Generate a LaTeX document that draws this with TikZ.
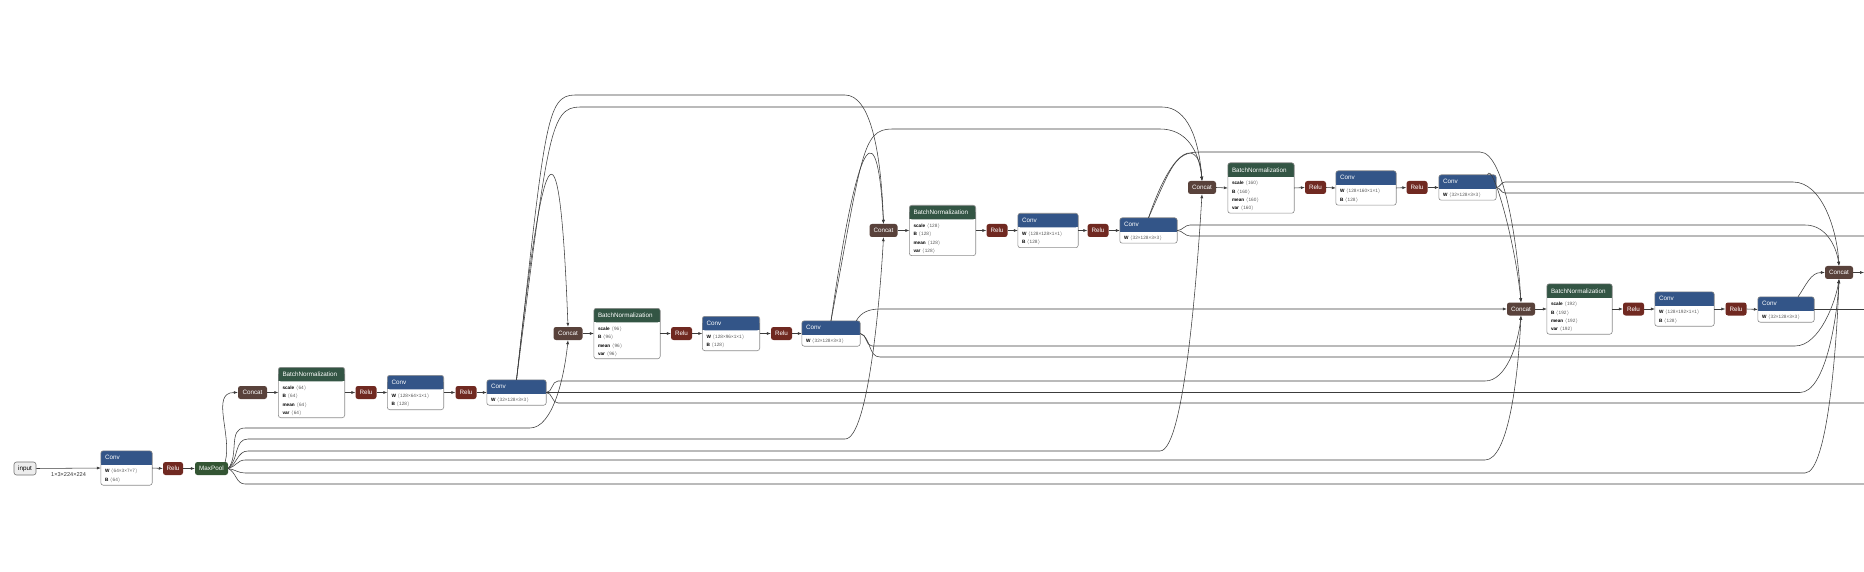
\documentclass[tikz,border=0pt]{standalone}
\usepackage{fontspec}
\setmainfont{Liberation Sans}
\usetikzlibrary{arrows.meta, positioning}
\definecolor{layerc}{RGB}{51,85,136}
\definecolor{normc}{RGB}{51,85,68}
\definecolor{actc}{RGB}{112,41,33}
\definecolor{poolc}{RGB}{51,85,51}
\definecolor{tensorc}{RGB}{89,66,59}
\definecolor{edgec}{RGB}{60,60,60}
\tikzstyle{op} = [rounded corners=2.5pt, text=white, inner sep=0pt, minimum height=13pt, font=\fontsize{6.3}{7}\selectfont]
\tikzstyle{frame} = [inner sep=0pt]
\tikzstyle{link} = [draw=edgec, line width=0.55pt, -{Latex[length=4pt, width=3pt]}]
\tikzstyle{trail} = [draw=edgec, line width=0.55pt]
\newcommand{\attr}[2]{\textbf{#1}~\textcolor{black!65}{$\langle$#2$\rangle$}}
% name, x, y, width, height, colour, title, rows
\newcommand{\layer}[8]{%
  \node[frame, minimum width=#4pt, minimum height=#5pt] (#1) at (#2,#3) {};
  \fill[white, rounded corners=2.5pt] (#1.south west) rectangle (#1.north east);
  \fill[#6, rounded corners=2.5pt] (#1.north west) rectangle ([yshift=-14pt]#1.north east);
  \fill[#6] ([yshift=-7pt]#1.north west) rectangle ([yshift=-14pt]#1.north east);
  \draw[black!45, line width=0.6pt, rounded corners=2.5pt] (#1.south west) rectangle (#1.north east);
  \node[anchor=west, text=white, inner sep=0pt, font=\fontsize{6.3}{7}\selectfont] at ([xshift=4pt, yshift=-7pt]#1.north west) {#7};
  \node[anchor=north west, align=left, inner sep=0pt, font=\fontsize{4.7}{8.4}\selectfont] at ([xshift=4pt, yshift=-18pt]#1.north west) {#8};
}

\begin{document}
\begin{tikzpicture}[x=1pt, y=-1pt]
	\useasboundingbox (0,0) rectangle (1864,572);
	\fill[white] (0,0) rectangle (1864,572);

	% stem
	\node[op, fill=black!7, draw=black!55, line width=0.6pt, text=black, minimum width=22pt] (input) at (25,468.5) {input};
	\layer{conv0}{126.5}{468}{51}{34}{layerc}{Conv}{\attr{W}{64×3×7×7}\\\attr{B}{64}}
	\node[op, fill=actc, minimum width=20pt] (relu0) at (173,468.5) {Relu};
	\node[op, fill=poolc, minimum width=33pt] (pool) at (211.5,468.5) {MaxPool};

	% dense layer 1
	\node[op, fill=tensorc, minimum width=29pt] (cat1) at (252.5,392.5) {Concat};
	\layer{bn1}{311.5}{392.5}{66}{50}{normc}{BatchNormalization}{\attr{scale}{64}\\\attr{B}{64}\\\attr{mean}{64}\\\attr{var}{64}}
	\node[op, fill=actc, minimum width=21pt] (relu1a) at (366,392.5) {Relu};
	\layer{conv1a}{415.5}{392.5}{56}{34}{layerc}{Conv}{\attr{W}{128×64×1×1}\\\attr{B}{128}}
	\node[op, fill=actc, minimum width=21pt] (relu1b) at (466,392.5) {Relu};
	\layer{conv1b}{516.5}{392.5}{59}{25}{layerc}{Conv}{\attr{W}{32×128×3×3}}

	% dense layer 2
	\node[op, fill=tensorc, minimum width=29pt] (cat2) at (568,333.5) {Concat};
	\layer{bn2}{627}{333.5}{66}{50}{normc}{BatchNormalization}{\attr{scale}{96}\\\attr{B}{96}\\\attr{mean}{96}\\\attr{var}{96}}
	\node[op, fill=actc, minimum width=21pt] (relu2a) at (681.5,333.5) {Relu};
	\layer{conv2a}{731}{333.5}{57}{34}{layerc}{Conv}{\attr{W}{128×96×1×1}\\\attr{B}{128}}
	\node[op, fill=actc, minimum width=21pt] (relu2b) at (781.5,333.5) {Relu};
	\layer{conv2b}{831}{333.5}{58}{25}{layerc}{Conv}{\attr{W}{32×128×3×3}}

	% dense layer 3
	\node[op, fill=tensorc, minimum width=28pt] (cat3) at (883.5,230.5) {Concat};
	\layer{bn3}{942.5}{230.5}{66}{50}{normc}{BatchNormalization}{\attr{scale}{128}\\\attr{B}{128}\\\attr{mean}{128}\\\attr{var}{128}}
	\node[op, fill=actc, minimum width=21pt] (relu3a) at (997,230.5) {Relu};
	\layer{conv3a}{1048}{230.5}{60}{34}{layerc}{Conv}{\attr{W}{128×128×1×1}\\\attr{B}{128}}
	\node[op, fill=actc, minimum width=21pt] (relu3b) at (1098,230.5) {Relu};
	\layer{conv3b}{1148.5}{230.5}{57}{25}{layerc}{Conv}{\attr{W}{32×128×3×3}}

	% dense layer 4
	\node[op, fill=tensorc, minimum width=28pt] (cat4) at (1202,187.5) {Concat};
	\layer{bn4}{1261}{188}{66}{50}{normc}{BatchNormalization}{\attr{scale}{160}\\\attr{B}{160}\\\attr{mean}{160}\\\attr{var}{160}}
	\node[op, fill=actc, minimum width=21pt] (relu4a) at (1315.5,187.5) {Relu};
	\layer{conv4a}{1366}{188}{60}{34}{layerc}{Conv}{\attr{W}{128×160×1×1}\\\attr{B}{128}}
	\node[op, fill=actc, minimum width=21pt] (relu4b) at (1417,187.5) {Relu};
	\layer{conv4b}{1467.5}{187.5}{57}{25}{layerc}{Conv}{\attr{W}{32×128×3×3}}

	% dense layer 5
	\node[op, fill=tensorc, minimum width=28pt] (cat5) at (1521,309) {Concat};
	\layer{bn5}{1579.5}{309}{65}{50}{normc}{BatchNormalization}{\attr{scale}{192}\\\attr{B}{192}\\\attr{mean}{192}\\\attr{var}{192}}
	\node[op, fill=actc, minimum width=21pt] (relu5a) at (1633.5,309) {Relu};
	\layer{conv5a}{1684.5}{309}{59}{34}{layerc}{Conv}{\attr{W}{128×192×1×1}\\\attr{B}{128}}
	\node[op, fill=actc, minimum width=21pt] (relu5b) at (1736,309) {Relu};
	\layer{conv5b}{1786}{309.5}{56}{25}{layerc}{Conv}{\attr{W}{32×128×3×3}}

	\node[op, fill=tensorc, minimum width=28pt] (cat6) at (1839,272.5) {Concat};

	% ends cut off by the frame
	\coordinate (outp) at (1864,484);
	\coordinate (outa) at (1864,403);
	\coordinate (outb) at (1864,357);
	\coordinate (outc) at (1864,236);
	\coordinate (outd) at (1864,193);
	\coordinate (oute) at (1864,309.5);
	\coordinate (outf) at (1864,272.5);

	% straight chains
	\draw[link] (input.east) -- node[below=4pt, inner sep=0pt, text=black!80, font=\fontsize{5.6}{6.5}\selectfont] {1×3×224×224} (conv0.west);
	\draw[link] (conv0.east) -- (relu0.west);
	\draw[link] (relu0.east) -- (pool.west);
	\draw[link] (cat1.east) -- (bn1.west);
	\draw[link] (bn1.east) -- (relu1a.west);
	\draw[link] (relu1a.east) -- (conv1a.west);
	\draw[link] (conv1a.east) -- (relu1b.west);
	\draw[link] (relu1b.east) -- (conv1b.west);
	\draw[link] (cat2.east) -- (bn2.west);
	\draw[link] (bn2.east) -- (relu2a.west);
	\draw[link] (relu2a.east) -- (conv2a.west);
	\draw[link] (conv2a.east) -- (relu2b.west);
	\draw[link] (relu2b.east) -- (conv2b.west);
	\draw[link] (cat3.east) -- (bn3.west);
	\draw[link] (bn3.east) -- (relu3a.west);
	\draw[link] (relu3a.east) -- (conv3a.west);
	\draw[link] (conv3a.east) -- (relu3b.west);
	\draw[link] (relu3b.east) -- (conv3b.west);
	\draw[link] (cat4.east) -- (bn4.west);
	\draw[link] (bn4.east) -- (relu4a.west);
	\draw[link] (relu4a.east) -- (conv4a.west);
	\draw[link] (conv4a.east) -- (relu4b.west);
	\draw[link] (relu4b.east) -- (conv4b.west);
	\draw[link] (cat5.east) -- (bn5.west);
	\draw[link] (bn5.east) -- (relu5a.west);
	\draw[link] (relu5a.east) -- (conv5a.west);
	\draw[link] (conv5a.east) -- (relu5b.west);
	\draw[link] (relu5b.east) -- (conv5b.west);
	\draw[link] (cat6.east) -- (outf);

	% maxpool features
	\draw[link] ([xshift=-3pt]pool.north east) to[out=75, in=180] (cat1.west);
	\draw[link] (pool.east) to[out=50, in=180] (245,428) -- (530,428) .. controls (552,428) and (564,380) .. (cat2.south);
	\draw[link] (pool.east) to[out=40, in=180] (248,439) -- (845,439) .. controls (868,439) and (880,300) .. (cat3.south);
	\draw[link] (pool.east) to[out=28, in=180] (248,451) -- (1160,451) .. controls (1185,451) and (1198,260) .. (cat4.south);
	\draw[link] (pool.east) to[out=12, in=180] (245,460) -- (1485,460) .. controls (1508,460) and (1518,380) .. (cat5.south);
	\draw[link] (pool.east) to[out=-8, in=180] (245,473) -- (1805,473) .. controls (1828,473) and (1837,340) .. (cat6.south);
	\draw[trail] (pool.east) to[out=-25, in=180] (245,484) -- (outp);

	% layer 1 output
	\draw[link] (conv1b.north) .. controls (545,116) and (560,116) .. (cat2.north);
	\draw[link] (conv1b.north) .. controls (545,125) and (546,95) .. (575,95) -- (845,95) .. controls (870,95) and (881,150) .. (cat3.north);
	\draw[link] (conv1b.north) .. controls (548,135) and (550,107) .. (580,107) -- (1162,107) .. controls (1188,107) and (1199,140) .. (cat4.north);
	\draw[link] (conv1b.east) to[out=0, in=180] (558,381) -- (1485,381) .. controls (1506,381) and (1518,345) .. (cat5.south);
	\draw[link] (conv1b.east) -- (1800,392.5) .. controls (1825,392.5) and (1837,320) .. (cat6.south);
	\draw[trail] (conv1b.east) to[out=0, in=180] (558,403) -- (outa);

	% layer 2 output
	\draw[link] (conv2b.north) .. controls (860,118) and (878,118) .. (cat3.north);
	\draw[link] (conv2b.north) .. controls (862,155) and (862,129) .. (892,129) -- (1160,129) .. controls (1186,129) and (1199,150) .. (cat4.north);
	\draw[link] ([xshift=-4pt]conv2b.north east) to[out=60, in=180] (880,309) -- (cat5.west);
	\draw[link] (conv2b.east) to[out=0, in=180] (872,346) -- (1795,346) .. controls (1820,346) and (1836,300) .. (cat6.south);
	\draw[trail] (conv2b.east) to[out=-20, in=180] (880,357) -- (outb);

	% layer 3 output
	\draw[link] (conv3b.north) .. controls (1175,140) and (1200,140) .. (cat4.north);
	\draw[link] (conv3b.north) .. controls (1172,165) and (1175,152) .. (1200,152) -- (1480,152) .. controls (1505,152) and (1518,250) .. (cat5.north);
	\draw[link] (conv3b.east) to[out=0, in=180] (1190,225) -- (1805,225) .. controls (1828,225) and (1837,250) .. (cat6.north);
	\draw[trail] (conv3b.east) to[out=0, in=180] (1190,236) -- (outc);

	% layer 4 output
	\draw[link] ([xshift=20pt]conv4b.north) .. controls (1492,160) and (1515,240) .. (cat5.north);
	\draw[link] (conv4b.east) to[out=0, in=180] (1505,182) -- (1793,182) .. controls (1822,182) and (1837,230) .. (cat6.north);
	\draw[trail] (conv4b.east) to[out=0, in=180] (1505,193) -- (outd);

	% layer 5 output
	\draw[link] ([xshift=12pt]conv5b.north) to[out=55, in=180] (cat6.west);
	\draw[trail] (conv5b.east) -- (oute);
\end{tikzpicture}
\end{document}
